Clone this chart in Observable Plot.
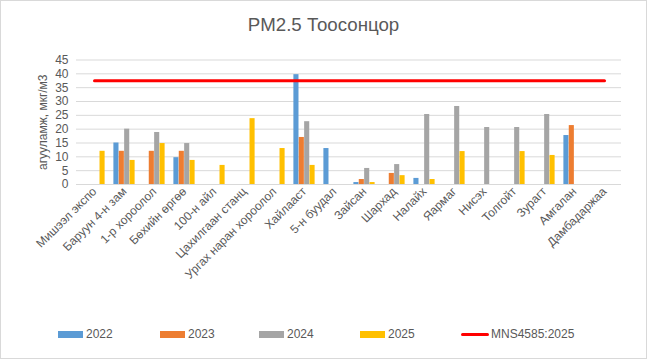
<!DOCTYPE html>
<html>
<head>
<meta charset="utf-8">
<script src="https://cdn.jsdelivr.net/npm/d3@7"></script>
<script src="https://cdn.jsdelivr.net/npm/@observablehq/plot@0.6"></script>
<style>
  body { margin: 0; background: #fff; }
  #chart { position: relative; width: 647px; height: 359px; font-family: "Liberation Sans", Arial, sans-serif; color: #595959; overflow: hidden; }
  #frame { position: absolute; left: 0; top: 0; width: 645px; height: 357px; border: 1px solid #d9d9d9; pointer-events: none; }
  #title { position: absolute; left: 0; top: 14px; width: 647px; text-align: center; font-size: 18.7px; line-height: 22px; color: #595959; }
  #plot { position: absolute; left: 0; top: 45px; }
  #legend { position: absolute; left: 0; top: 326px; width: 647px; height: 16px; font-size: 12px; line-height: 16px; }
  .item { position: absolute; top: 0; display: flex; align-items: center; white-space: nowrap; }
  .sw { display: inline-block; width: 25px; height: 7px; margin-right: 3px; }
  .ln { display: inline-block; width: 28px; height: 3px; margin-right: 2px; border-radius: 2px; }
</style>
</head>
<body>
<div id="chart">
  <div id="title">PM2.5 Тоосонцор</div>
  <div id="plot"></div>
  <div id="legend"></div>
  <div id="frame"></div>
</div>
<script>
const categories = ["Мишээл экспо", "Баруун 4-н зам", "1-р хороолол", "Бөхийн өргөө", "100-н айл", "Цахилгаан станц", "Ургах наран хороолол", "Хайлааст", "5-н буудал", "Зайсан", "Шархад", "Налайх", "Яармаг", "Нисэх", "Толгойт", "Зурагт", "Амгалан", "Дамбадаржаа"];
const years = ["2022", "2023", "2024", "2025"];
const v2022 = [null, 15, null, 9.7, null, null, null, 39.7, 13, 0.7, null, 2.2, null, null, null, null, 17.7, null];
const v2023 = [null, 12, 12, 12, null, null, null, 17, null, 1.8, 4, null, null, null, null, null, 21.3, null];
const v2024 = [null, 20, 18.8, 14.8, null, null, null, 22.7, null, 5.8, 7.2, 25.3, 28.2, 20.6, 20.6, 25.3, null, null];
const v2025 = [12, 8.7, 14.8, 8.7, 6.9, 23.8, 13, 6.9, null, 0.7, 3.2, 1.8, 11.9, null, 11.9, 10.5, null, null];
const limitValue = 37.5;
const limitLabel = "MNS4585:2025";
const yTicks = [0, 5, 10, 15, 20, 25, 30, 35, 40, 45];
const colors = ["#5B9BD5", "#ED7D31", "#A5A5A5", "#FFC000"];
const limitColor = "#FF0000";

const seriesValues = [v2022, v2023, v2024, v2025];
const rows = [];
years.forEach((yr, i) => {
  categories.forEach((c, j) => {
    const v = seriesValues[i][j];
    if (v != null) rows.push({cat: c, year: yr, value: v});
  });
});

const W = 647, H = 260, mL = 76, mR = 26, mT = 14.5, mB = 121;
const step = (W - mL - mR) / categories.length;
const barW = step * 0.1775;
const groupOff = (step - 4 * barW) / 2;

const font = '"Liberation Sans", Arial, sans-serif';

const chart = Plot.plot({
  width: W, height: H,
  marginTop: mT, marginBottom: mB, marginLeft: mL, marginRight: mR,
  style: {fontFamily: font, fontSize: "12px", color: "#595959", background: "transparent"},
  x: {type: "band", domain: categories, padding: 0, label: null},
  y: {domain: [0, 45], label: null},
  marks: [
    Plot.gridY(yTicks, {stroke: "#d9d9d9", strokeOpacity: 1}),
    Plot.axisY(yTicks, {tickSize: 0, tickPadding: 8, label: "агууламж, мкг/м3", labelAnchor: "center", labelArrow: "none", labelOffset: 38, fontSize: 12, fill: "#595959"}),
    Plot.axisX({tickSize: 0, tickRotate: -45, tickPadding: 5, label: null, fontSize: 12, fill: "#595959"}),
    ...years.map((yr, i) => Plot.barY(rows.filter(d => d.year === yr), {
      x: "cat", y: "value", fill: colors[i],
      insetLeft: groupOff + i * barW,
      insetRight: step - (groupOff + (i + 1) * barW)
    })),
    Plot.ruleY([0], {stroke: "#d9d9d9"}),
    Plot.lineY(categories, {x: d => d, y: () => limitValue, stroke: limitColor, strokeWidth: 3})
  ]
});
document.getElementById("plot").appendChild(chart);

const legend = document.getElementById("legend");
const legendItems = years.map((yr, i) => ({label: yr, color: colors[i], line: false}))
  .concat([{label: limitLabel, color: limitColor, line: true}]);
const legendLeft = [58, 160, 259, 360, 461];
legendItems.forEach((it, i) => {
  const el = document.createElement("div");
  el.className = "item";
  el.style.left = legendLeft[i] + "px";
  const mk = document.createElement("span");
  mk.className = it.line ? "ln" : "sw";
  mk.style.background = it.color;
  el.appendChild(mk);
  const t = document.createElement("span");
  t.textContent = it.label;
  el.appendChild(t);
  legend.appendChild(el);
});
</script>
</body>
</html>
